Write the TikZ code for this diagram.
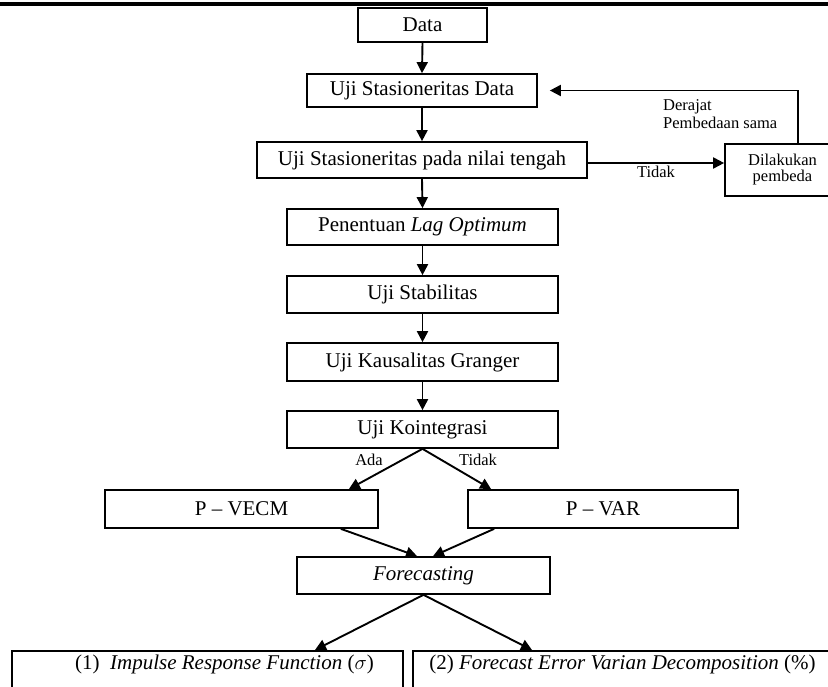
\documentclass[tikz,border=0pt]{standalone}
\usepackage{fontspec}
\setmainfont{Liberation Serif}
\usetikzlibrary{arrows.meta}
\begin{document}
\begin{tikzpicture}[x=1pt,y=-1pt,
  box/.style={draw,line width=1.7pt,inner sep=0pt,font=\fontsize{21}{24}\selectfont},
  bottombox/.style={draw,line width=1.7pt,anchor=north,inner xsep=0pt,inner ysep=0pt,
     text height=18.5pt,text depth=60pt,font=\fontsize{21}{24}\selectfont},
  lbl/.style={font=\fontsize{16.5}{18}\selectfont,inner sep=0pt},
  arr/.style={line width=1.9pt,-{Triangle[length=11pt,width=11pt]}},
  ln/.style={line width=1.9pt}]
\useasboundingbox (0,0) rectangle (828,687);
\clip (0,0) rectangle (828,687);
\draw[line width=3.2pt] (0,4) -- (828,4);

\node[box,minimum width=129pt,minimum height=34pt] (data) at (422.5,25) {Data};
\node[box,minimum width=230pt,minimum height=33pt] (usd) at (422,90.5) {Uji Stasioneritas Data};
\node[box,minimum width=330pt,minimum height=36pt] (unt) at (422,160) {Uji Stasioneritas pada nilai tengah};
\node[box,minimum width=271pt,minimum height=36pt] (lag) at (422.5,227) {Penentuan \textit{Lag Optimum}};
\node[box,minimum width=271pt,minimum height=37pt] (stab) at (422.5,294.5) {Uji Stabilitas};
\node[box,minimum width=271pt,minimum height=38pt] (kaus) at (422.5,362) {Uji Kausalitas Granger};
\node[box,minimum width=271pt,minimum height=37pt] (koin) at (422.5,429.5) {Uji Kointegrasi};
\node[box,minimum width=273pt,minimum height=38pt] (vecm) at (241.5,509) {P -- VECM};
\node[box,minimum width=270pt,minimum height=38pt] (var) at (603,509) {P -- VAR};
\node[box,minimum width=253pt,minimum height=37pt] (fc) at (423.5,575.5) {\textit{Forecasting}};
\node[box,minimum width=115pt,minimum height=52pt,align=center,
      font=\fontsize{16.5}{16}\selectfont] (dil) at (782.5,170) {Dilakukan\\pembeda};

\node[bottombox,minimum width=391pt] (irf) at (207.5,650)
  {\hspace*{34pt}(1)\ \ \textit{Impulse Response Function} ($\sigma$)};
\node[bottombox,minimum width=419pt] (fevd) at (622.5,650)
  {(2) \textit{Forecast Error Varian Decomposition} (\%)};

% vertical chain
\draw[arr] (data.south) -- (usd.north);
\draw[arr] (usd.south) -- (unt.north);
\draw[arr] (unt.south) -- (lag.north);
\draw[arr] (lag.south) -- (stab.north);
\draw[arr] (stab.south) -- (kaus.north);
\draw[arr] (kaus.south) -- (koin.north);

% loop
\draw[arr] ([yshift=-3pt]unt.east) -- ([yshift=-3pt]unt.east -| dil.west);
\node[lbl] (tidak1) at (656,172) {Tidak};
\draw[arr] ([xshift=15.5pt]dil.north) |- ([xshift=12pt]usd.east);
\node[lbl,align=left,anchor=west] (deraj) at (663,114) {Derajat\\Pembedaan sama};

% branches
\draw[arr] (koin.south) -- ([xshift=-30pt]vecm.north east);
\draw[arr] (koin.south) -- ([xshift=24pt]var.north west);
\node[lbl] (ada) at (369,460) {Ada};
\node[lbl] (tidak2) at (478,460) {Tidak};

\draw[arr] ([xshift=-38pt]vecm.south east) -- ([xshift=-6.5pt]fc.north);
\draw[arr] ([xshift=27pt]var.south west) -- ([xshift=9.5pt]fc.north);

\draw[arr] (fc.south) -- ([xshift=107.5pt]irf.north);
\draw[arr] (fc.south) -- ([xshift=-90.5pt]fevd.north);
\end{tikzpicture}
\end{document}
